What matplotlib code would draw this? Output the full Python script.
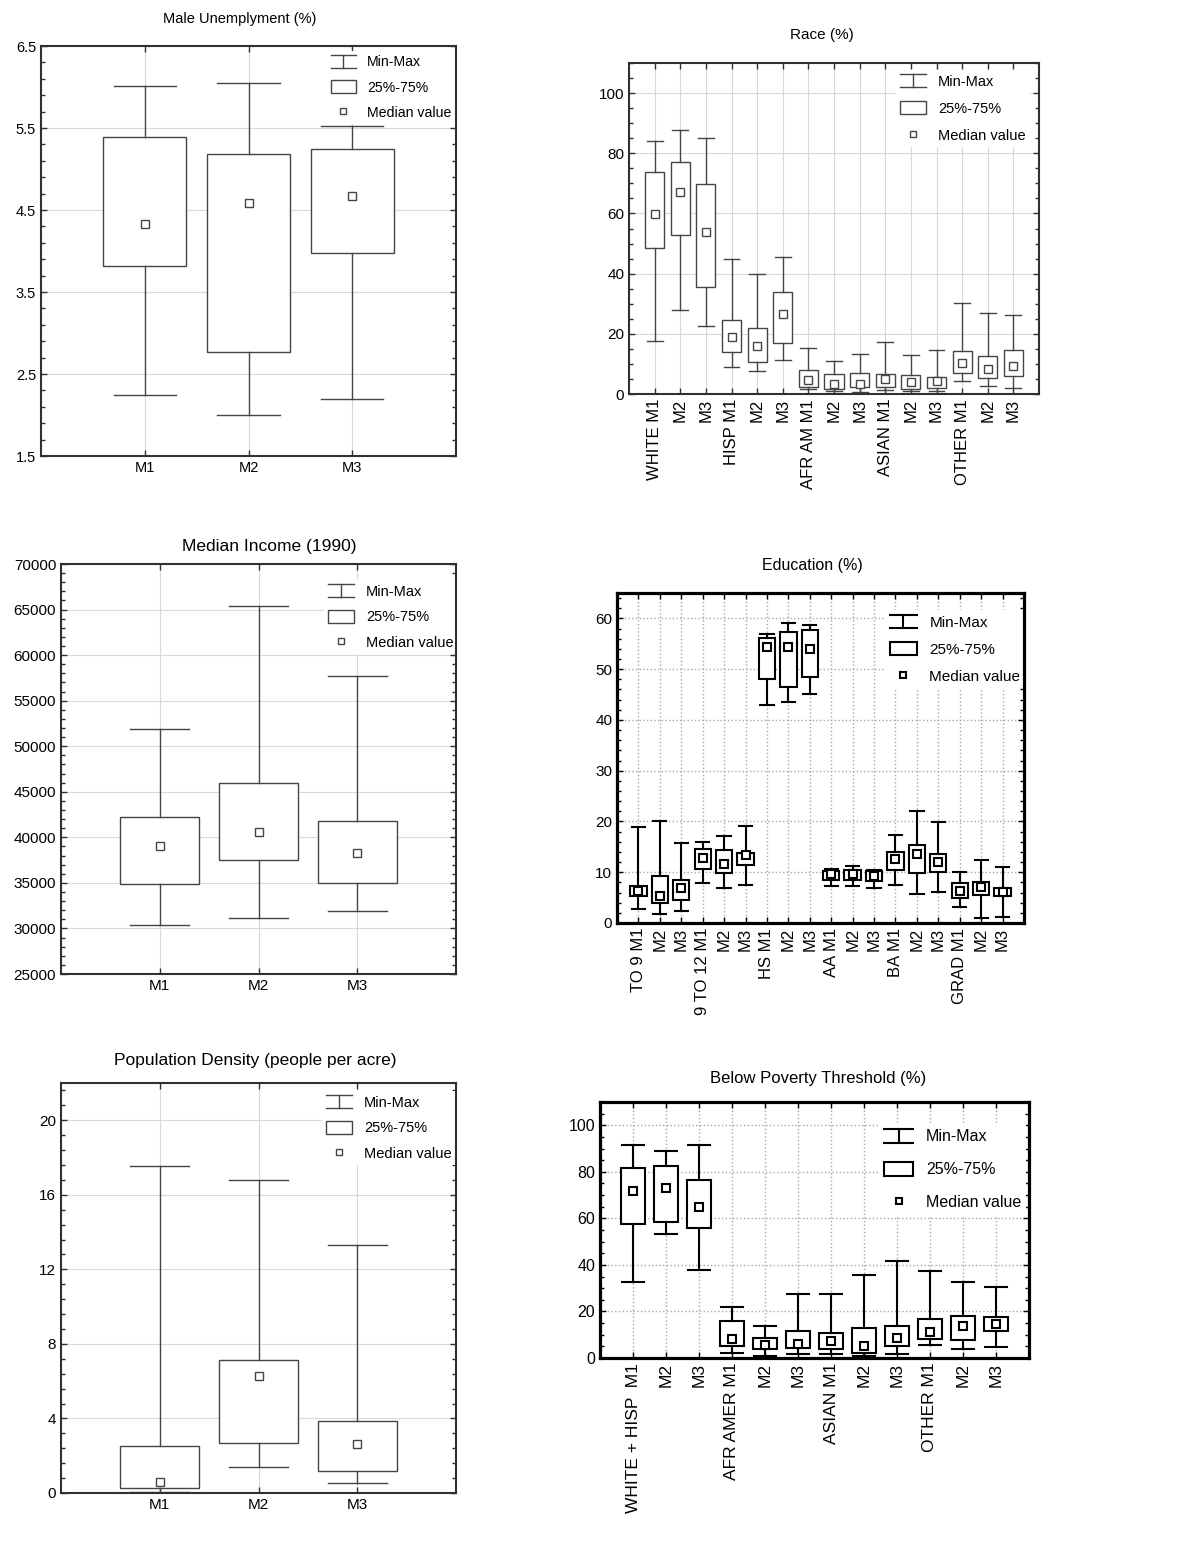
import numpy as np
import matplotlib
matplotlib.use('Agg')
import matplotlib.pyplot as plt
from matplotlib.lines import Line2D
from matplotlib.patches import Rectangle
from matplotlib.legend_handler import HandlerBase
from matplotlib.ticker import AutoMinorLocator, FormatStrFormatter

plt.rcParams['font.family'] = ['Liberation Sans', 'DejaVu Sans']

W, H = 1200, 1552

######################
### data (read off) ###
######################
m_labels = ['M1', 'M2', 'M3']

unemp_min = [2.25, 2.00, 2.19]
unemp_q1 = [3.82, 2.77, 3.97]
unemp_med = [4.33, 4.59, 4.67]
unemp_q3 = [5.39, 5.18, 5.24]
unemp_max = [6.01, 6.05, 5.52]

race_labels = ['WHITE M1', 'M2', 'M3', 'HISP M1', 'M2', 'M3', 'AFR AM M1', 'M2', 'M3',
               'ASIAN M1', 'M2', 'M3', 'OTHER M1', 'M2', 'M3']
race_min = [17.6, 28.0, 22.7, 9.1, 7.7, 11.2, 1.7, 1.0, 0.7, 1.4, 1.1, 1.0, 4.4, 2.5, 2.1]
race_q1 = [48.5, 52.7, 35.7, 13.9, 10.6, 17.1, 2.3, 1.8, 2.2, 2.3, 1.8, 2.0, 6.9, 5.4, 5.9]
race_med = [59.9, 67.1, 53.9, 19.0, 15.9, 26.5, 4.5, 3.3, 3.3, 5.1, 4.1, 4.4, 10.3, 8.3, 9.2]
race_q3 = [73.9, 77.2, 69.7, 24.5, 21.8, 33.9, 8.1, 6.5, 6.9, 6.5, 6.3, 5.6, 14.4, 12.7, 14.7]
race_max = [84.1, 87.7, 85.2, 45.0, 39.8, 45.6, 15.4, 11.0, 13.3, 17.2, 13.0, 14.5, 30.2, 26.9, 26.4]

income_min = [30380, 31180, 31920]
income_q1 = [34880, 37510, 34990]
income_med = [39080, 40540, 38240]
income_q3 = [42260, 45950, 41750]
income_max = [51910, 65430, 57720]

edu_labels = ['TO 9 M1', 'M2', 'M3', '9 TO 12 M1', 'M2', 'M3', 'HS M1', 'M2', 'M3',
              'AA M1', 'M2', 'M3', 'BA M1', 'M2', 'M3', 'GRAD M1', 'M2', 'M3']
edu_min = [2.8, 1.8, 2.3, 7.8, 6.8, 7.5, 43.0, 43.5, 45.2, 7.2, 7.2, 6.8, 7.5, 5.8, 6.1, 3.2, 1.0, 1.2]
edu_q1 = [5.3, 3.9, 4.5, 10.7, 9.8, 11.5, 48.0, 46.4, 48.5, 8.4, 8.4, 8.2, 10.5, 9.8, 10.1, 5.0, 5.5, 5.3]
edu_med = [6.4, 5.4, 6.9, 12.9, 11.7, 13.4, 54.3, 54.3, 53.9, 9.6, 9.7, 9.2, 12.6, 13.6, 12.1, 6.4, 7.1, 6.1]
edu_q3 = [7.2, 9.2, 8.5, 14.5, 14.3, 13.8, 56.1, 57.4, 57.8, 10.2, 10.4, 10.3, 14.0, 15.3, 13.6, 7.8, 8.1, 6.8]
edu_max = [18.9, 20.1, 15.8, 16.0, 17.1, 19.1, 57.0, 59.0, 58.7, 10.7, 11.2, 10.5, 17.3, 22.1, 19.8, 10.1, 12.5, 11.1]

dens_min = [0.04, 1.41, 0.54]
dens_q1 = [0.27, 2.69, 1.18]
dens_med = [0.59, 6.28, 2.63]
dens_q3 = [2.51, 7.11, 3.87]
dens_max = [17.53, 16.80, 13.29]

pov_labels = ['WHITE + HISP  M1', 'M2', 'M3', 'AFR AMER M1', 'M2', 'M3',
              'ASIAN M1', 'M2', 'M3', 'OTHER M1', 'M2', 'M3']
pov_min = [32.8, 53.2, 38.0, 2.3, 0.9, 1.6, 1.6, 0.9, 1.6, 5.4, 3.9, 4.6]
pov_q1 = [57.6, 58.3, 56.0, 5.3, 3.7, 4.4, 3.7, 2.3, 5.3, 8.3, 7.6, 11.5]
pov_med = [71.6, 73.1, 64.8, 8.0, 5.7, 5.9, 7.2, 5.0, 8.7, 11.0, 13.9, 14.8]
pov_q3 = [81.8, 82.7, 76.6, 16.0, 8.5, 11.5, 10.7, 12.9, 13.8, 16.8, 18.2, 17.5]
pov_max = [91.7, 88.8, 91.7, 22.1, 13.8, 27.4, 27.4, 35.7, 41.7, 37.2, 32.8, 30.4]


class MinMaxHandler(HandlerBase):
    # I-beam legend symbol
    def create_artists(self, legend, orig_handle, xdescent, ydescent, width, height, fontsize, trans):
        x0, y0 = -xdescent, -ydescent
        xm = x0 + width / 2.0
        segs = [([x0, x0 + width], [y0, y0]),
                ([x0, x0 + width], [y0 + height, y0 + height]),
                ([xm, xm], [y0, y0 + height])]
        out = []
        for xs, ys in segs:
            out.append(Line2D(xs, ys, color=orig_handle.get_color(),
                              linewidth=orig_handle.get_linewidth(), transform=trans))
        return out


thin = dict(lc='#454545', lw=1.0, spine='#303030', slw=1.5, grid=dict(color='#d9d9d9', lw=0.8, ls='-'), mew=1.0)
heavy = dict(lc='black', lw=1.5, spine='black', slw=2.3, grid=dict(color='#a8a8a8', lw=1.0, ls=':'), mew=1.5)


def box_panel(px, title, tpos, tsize, labels, vmin, q1, med, q3, vmax, ylim, yticks,
              style, width=0.8, capw=0.6, nminor=5, fx=11, fy=11, fleg=10.5, rot=0,
              leg_off=(4, 8), leg_sp=0.6, yfmt=None):
    l, t, r, b = px
    ax = fig.add_axes([l / W, 1 - b / H, (r - l) / W, (b - t) / H])
    pos = np.arange(1, len(labels) + 1)
    stats = [dict(whislo=a, q1=c, med=d, q3=e, whishi=f)
             for a, c, d, e, f in zip(vmin, q1, med, q3, vmax)]
    lc, lw = style['lc'], style['lw']
    ax.bxp(stats, positions=pos, widths=width, capwidths=capw, showfliers=False,
           patch_artist=True, manage_ticks=False,
           boxprops=dict(facecolor='white', edgecolor=lc, linewidth=lw),
           whiskerprops=dict(color=lc, linewidth=lw),
           capprops=dict(color=lc, linewidth=lw),
           medianprops=dict(visible=False))
    ax.plot(pos, med, ls='none', marker='s', ms=5.3, mfc='white', mec=lc, mew=style['mew'], zorder=4)

    ax.set_xlim(0, len(labels) + 1)
    ax.set_ylim(*ylim)
    ax.set_xticks(pos)
    ax.set_xticklabels(labels, rotation=rot, fontsize=fx)
    ax.set_yticks(yticks)
    if yfmt:
        ax.yaxis.set_major_formatter(FormatStrFormatter(yfmt))
    ax.tick_params(axis='y', labelsize=fy)
    ax.yaxis.set_minor_locator(AutoMinorLocator(nminor))
    ax.tick_params(which='both', direction='in', top=True, right=True,
                   color=style['spine'], width=1.0)
    ax.tick_params(which='major', length=4)
    ax.tick_params(which='minor', length=3)
    for s in ax.spines.values():
        s.set_color(style['spine'])
        s.set_linewidth(style['slw'])
    ax.set_axisbelow(True)
    g = style['grid']
    ax.grid(True, which='major', color=g['color'], linewidth=g['lw'], linestyle=g['ls'])

    # legend
    mm = Line2D([], [], color=lc, linewidth=lw)
    bx = Rectangle((0, 0), 1, 1, facecolor='white', edgecolor=lc, linewidth=lw)
    md = Line2D([], [], ls='none', marker='s', ms=5, mfc='white', mec=lc, mew=style['mew'])
    aw, ah = r - l, b - t
    leg = ax.legend([mm, bx, md], ['Min-Max', '25%-75%', 'Median value'],
                    handler_map={mm: MinMaxHandler()}, loc='upper right',
                    bbox_to_anchor=(1 - leg_off[0] / aw, 1 - leg_off[1] / ah),
                    frameon=True, facecolor='white', edgecolor='none', framealpha=1,
                    fancybox=False, fontsize=fleg, handlelength=1.8, handleheight=1.0,
                    handletextpad=0.8, labelspacing=leg_sp, borderpad=0.3, borderaxespad=0)
    leg.set_zorder(2.4)  # under the frame lines
    fig.text(tpos[0] / W, 1 - tpos[1] / H, title, ha='center', va='center', fontsize=tsize)
    return ax


fig = plt.figure(figsize=(12, 15.52), dpi=100)

box_panel((41, 46, 456, 456), 'Male Unemplyment (%)', (240, 19), 10.5, m_labels,
          unemp_min, unemp_q1, unemp_med, unemp_q3, unemp_max,
          (1.5, 6.5), np.arange(1.5, 6.6, 1.0), thin, fx=10.5, fy=10.5, fleg=10.2,
          leg_off=(0, 5), leg_sp=0.78, yfmt='%.1f')

box_panel((629, 63, 1039, 394), 'Race (%)', (822, 35), 11, race_labels,
          race_min, race_q1, race_med, race_q3, race_max,
          (0, 110), np.arange(0, 101, 20), thin, width=0.75, capw=0.62, nminor=4,
          fx=12, fy=11, fleg=10.5, rot=90, leg_off=(9, 7), leg_sp=0.85)

box_panel((61, 564, 456, 974), 'Median Income (1990)', (269, 546), 12.5, m_labels,
          income_min, income_q1, income_med, income_q3, income_max,
          (25000, 70000), np.arange(25000, 70001, 5000), thin, fx=11, fy=11, fleg=10.5,
          leg_off=(-2, 16), leg_sp=0.75, yfmt='%d')

box_panel((617, 593, 1024, 923), 'Education (%)', (812, 565), 11.5, edu_labels,
          edu_min, edu_q1, edu_med, edu_q3, edu_max,
          (0, 65), np.arange(0, 61, 10), heavy, width=0.76, capw=0.62, nminor=5,
          fx=12, fy=11, fleg=11, rot=90, leg_off=(-1, 17), leg_sp=0.78)

box_panel((61, 1083, 456, 1493), 'Population Density (people per acre)', (255, 1061), 12.5, m_labels,
          dens_min, dens_q1, dens_med, dens_q3, dens_max,
          (0, 22), np.arange(0, 21, 4), thin, fx=11, fy=11, fleg=10.5,
          leg_off=(0, 8), leg_sp=0.75)

box_panel((600, 1102, 1029, 1358), 'Below Poverty Threshold (%)', (818, 1078), 12, pov_labels,
          pov_min, pov_q1, pov_med, pov_q3, pov_max,
          (0, 110), np.arange(0, 101, 20), heavy, width=0.72, capw=0.65, nminor=4,
          fx=12.5, fy=11.5, fleg=11.5, rot=90, leg_off=(3, 22), leg_sp=1.07)

fig.savefig('out.png', dpi=100, facecolor='white')
